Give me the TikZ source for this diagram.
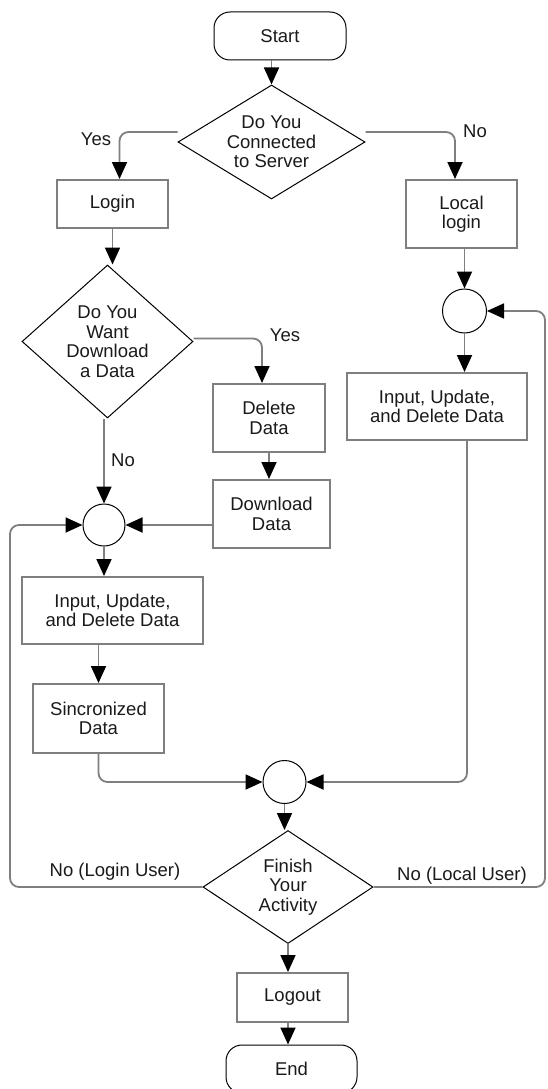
\documentclass[tikz,border=0pt]{standalone}
\usepackage{fontspec}
\setmainfont{Liberation Sans}
\usetikzlibrary{shapes.geometric,arrows.meta}
\definecolor{lgray}{HTML}{7F7F7F}
\definecolor{tcol}{HTML}{1A1A1A}
\begin{document}
\begin{tikzpicture}[x=1pt,y=-1pt, font=\fontsize{18.5}{19.5}\selectfont, text=tcol,
  box/.style={draw=lgray, line width=2pt, fill=white, inner sep=2pt, align=center},
  term/.style={draw=black, line width=1pt, rounded corners=16pt, inner sep=0pt},
  dec/.style={draw=black, line width=1pt, diamond, inner sep=0pt},
  junc/.style={draw=black, line width=1pt, circle, inner sep=0pt},
  arr/.style={draw=lgray, line width=1.8pt, -{Triangle[length=17pt,width=15pt,color=black]}},
  conn/.style={draw=lgray, line width=1.8pt},
  lbl/.style={inner sep=1pt}]
\useasboundingbox[fill=white] (0,0) rectangle (547,1089);

% terminals
\node[term, minimum width=132pt, minimum height=48pt] (start) at (280,36) {Start};
\node[term, minimum width=131pt, minimum height=48pt] (end) at (291.5,1069) {End};

% decisions
\node[dec, minimum width=187pt, minimum height=114pt,
  label={[align=center]center:Do You\\Connected\\to Server}] (d1) at (271.5,142) {};
\node[dec, minimum width=171pt, minimum height=153pt,
  label={[align=center]center:Do You\\Want\\Download\\a Data}] (d2) at (107.5,341.5) {};
\node[dec, minimum width=170pt, minimum height=113pt,
  label={[align=center]center:Finish\\Your\\Activity}] (fin) at (288,887) {};

% boxes
\node[box, minimum width=111pt, minimum height=48pt] (login) at (112.5,204) {Login};
\node[box, minimum width=111pt, minimum height=68pt] (local) at (461.5,214) {Local\\login};
\node[box, minimum width=112pt, minimum height=68pt] (del) at (269,418) {Delete\\Data};
\node[box, minimum width=117pt, minimum height=68pt] (dl) at (271.5,514) {Download\\Data};
\node[box, minimum width=181pt, minimum height=67pt] (in1) at (112.5,610.5) {Input, Update,\\and Delete Data};
\node[box, minimum width=180pt, minimum height=67pt] (in2) at (437,406.5) {Input, Update,\\and Delete Data};
\node[box, minimum width=131pt, minimum height=69pt] (sinc) at (98.5,718.5) {Sincronized\\Data};
\node[box, minimum width=111pt, minimum height=49pt] (logout) at (292.5,997.5) {Logout};

% junctions
\node[junc, minimum size=42pt] (c1) at (104,525) {};
\node[junc, minimum size=44pt] (cR) at (464.5,311) {};
\node[junc, minimum size=43pt] (c2) at (284.5,782) {};

% helper coordinates
\coordinate (lx) at (10,525);
\coordinate (rx) at (545,311);

% labels
\node[lbl] (yes1) at (96,139) {Yes};
\node[lbl] (no1) at (475,131) {No};
\node[lbl] (yes2) at (285,335) {Yes};
\node[lbl] (no2) at (123,460) {No};
\node[lbl] (nologin) at (115,872) {No (Login User)};
\node[lbl] (nolocal) at (462,876) {No (Local User)};

% connectors
\draw[arr] (start.south -| d1.north) -- (d1.north);
\draw[arr, rounded corners=9pt] ([yshift=10pt]d1.west) -| ([xshift=7pt]login.north);
\draw[arr, rounded corners=9pt] ([yshift=10pt]d1.east) -| ([xshift=-6.5pt]local.north);
\draw[arr] (login.south) -- (login.south |- d2.north);
\draw[arr, rounded corners=9pt] ([yshift=3pt]d2.east) -| ([xshift=-7pt]del.north);
\draw[arr] (c1.north |- d2.south) -- (c1.north);
\draw[arr] (del.south) -- (del.south |- dl.north);
\draw[arr] (dl.west |- c1.east) -- (c1.east);
\draw[arr] (c1.south) -- (c1.south |- in1.north);
\draw[arr] (sinc.north |- in1.south) -- (sinc.north);
\draw[arr, rounded corners=9pt] (sinc.south) |- (c2.west);
\draw[arr] (local.south -| cR.north) -- (cR.north);
\draw[arr] (cR.south) -- (cR.south |- in2.north);
\draw[arr, rounded corners=9pt] ([xshift=2.5pt]cR.south |- in2.south) |- (c2.east);
\draw[arr] (c2.south) -- (c2.south |- fin.north);
\draw[arr, rounded corners=9pt] (fin.west) -| (lx) -- (c1.west);
\draw[arr, rounded corners=9pt] (fin.east) -| (rx) -- (cR.east);
\draw[arr] (fin.south) -- (fin.south |- logout.north);
\draw[arr] (fin.south |- logout.south) -- (fin.south |- end.north);
\end{tikzpicture}
\end{document}
